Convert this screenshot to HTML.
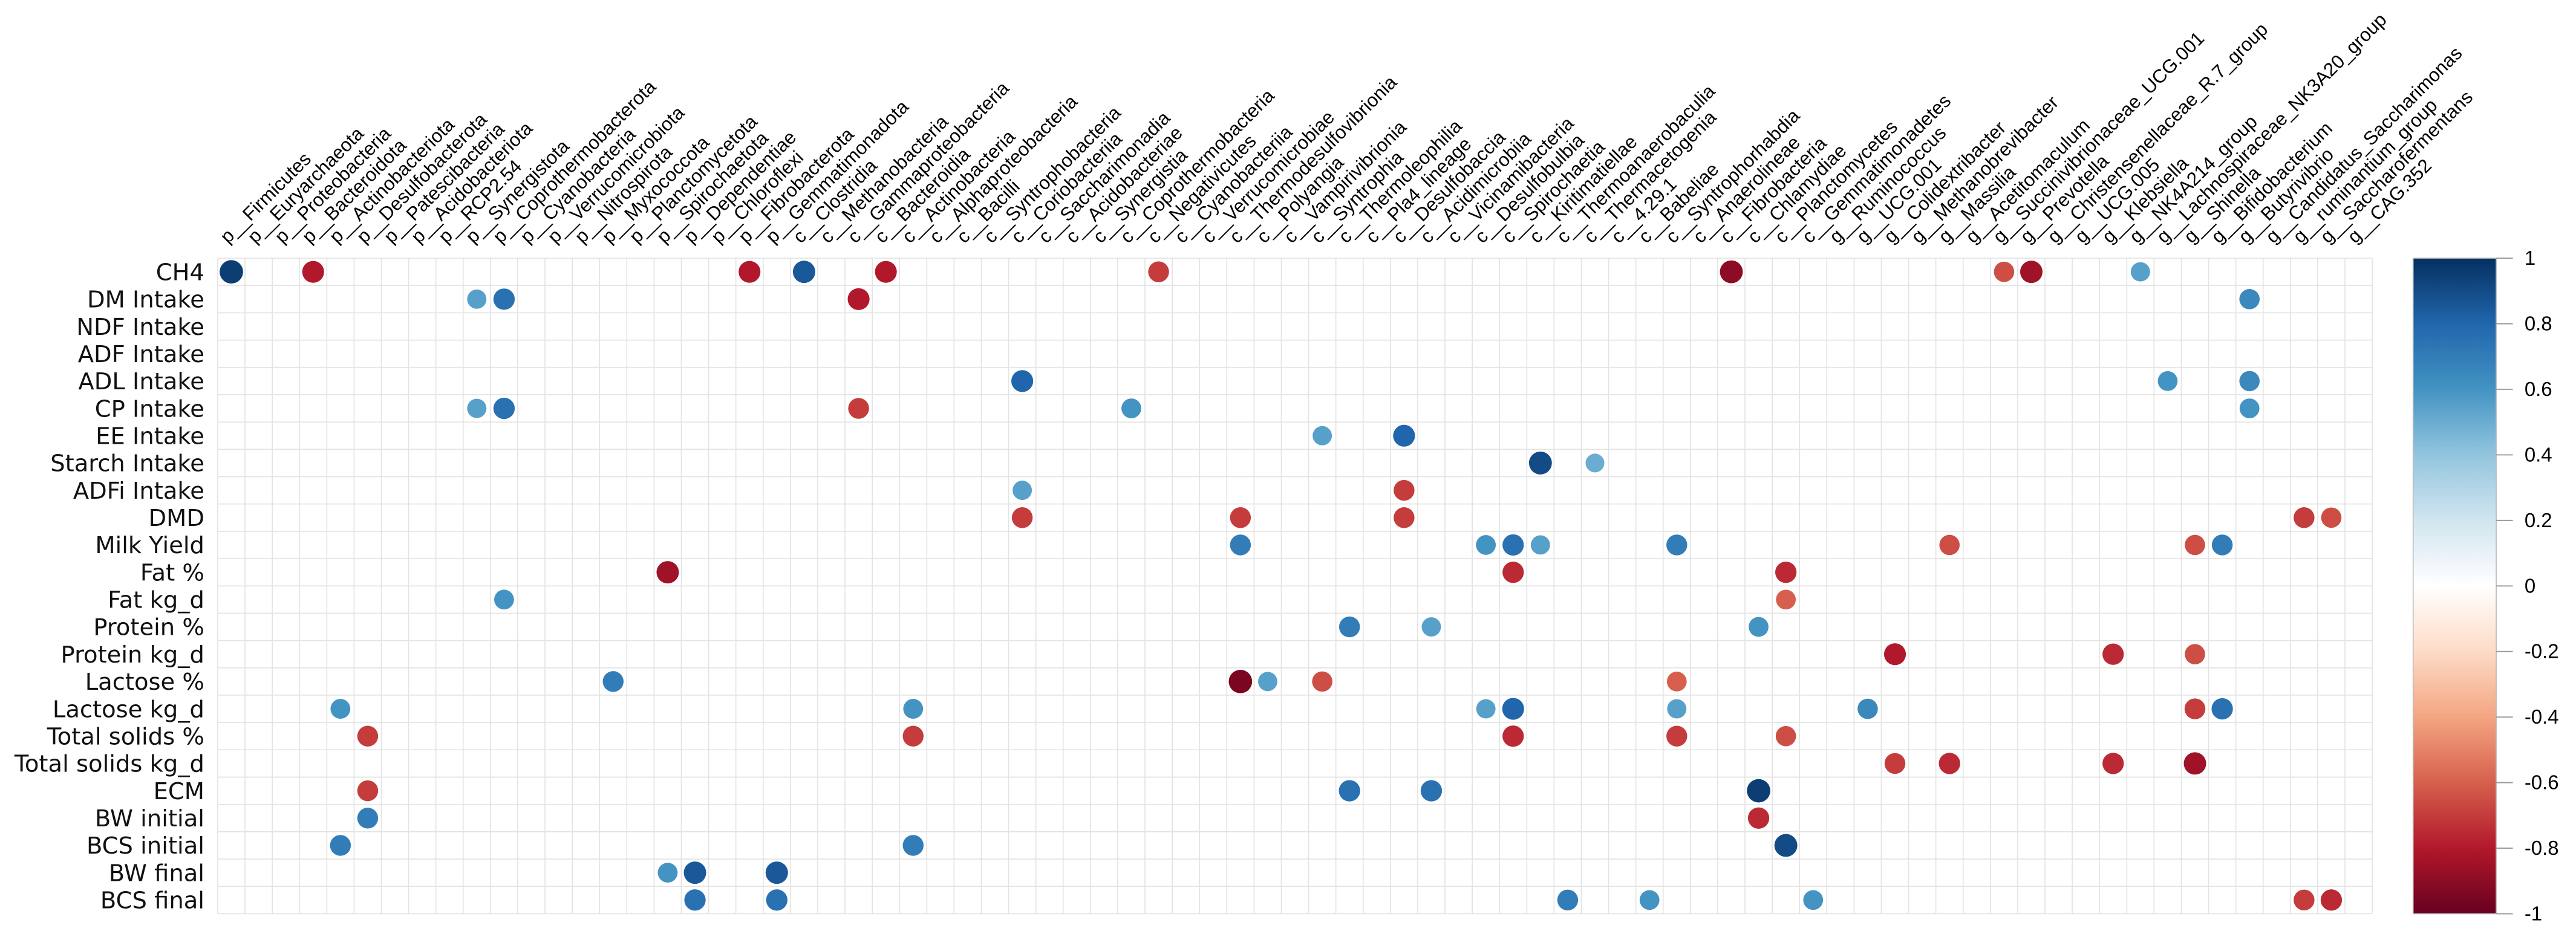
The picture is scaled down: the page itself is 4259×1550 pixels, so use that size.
<!DOCTYPE html>
<html><head><meta charset="utf-8"><style>
html,body{margin:0;padding:0;background:#fff;}
svg{display:block;}
text{font-family:"Liberation Sans",sans-serif;}
</style></head><body>
<svg id="chart" width="4259" height="1550" viewBox="0 0 1550 564" preserveAspectRatio="none" xmlns="http://www.w3.org/2000/svg">
<defs>
<linearGradient id="cbgrad" x1="0" y1="0" x2="0" y2="1">
<stop offset="0" stop-color="#053061"/><stop offset="0.1" stop-color="#2166AC"/><stop offset="0.2" stop-color="#4393C3"/><stop offset="0.3" stop-color="#92C5DE"/><stop offset="0.4" stop-color="#D1E5F0"/><stop offset="0.5" stop-color="#FFFFFF"/><stop offset="0.6" stop-color="#FDDBC7"/><stop offset="0.7" stop-color="#F4A582"/><stop offset="0.8" stop-color="#D6604D"/><stop offset="0.9" stop-color="#B2182B"/><stop offset="1" stop-color="#67001F"/>
</linearGradient>
</defs>
<g id="grid"></g>
<g id="rowlabels"></g>
<g id="collabels"></g>
<g id="dots"></g>
<g id="colorbar"></g>
</svg>
<script>
const rowNames = ["CH4","DM Intake","NDF Intake","ADF Intake","ADL Intake","CP Intake","EE Intake","Starch Intake","ADFi Intake","DMD","Milk Yield","Fat %","Fat kg_d","Protein %","Protein kg_d","Lactose %","Lactose kg_d","Total solids %","Total solids kg_d","ECM","BW initial","BCS initial","BW final","BCS final"];
const colNames = ["p__Firmicutes","p__Euryarchaeota","p__Proteobacteria","p__Bacteroidota","p__Actinobacteriota","p__Desulfobacterota","p__Patescibacteria","p__Acidobacteriota","p__RCP2.54","p__Synergistota","p__Coprothermobacterota","p__Cyanobacteria","p__Verrucomicrobiota","p__Nitrospirota","p__Myxococcota","p__Planctomycetota","p__Spirochaetota","p__Dependentiae","p__Chloroflexi","p__Fibrobacterota","p__Gemmatimonadota",
"c__Clostridia","c__Methanobacteria","c__Gammaproteobacteria","c__Bacteroidia","c__Actinobacteria","c__Alphaproteobacteria","c__Bacilli","c__Syntrophobacteria","c__Coriobacteriia","c__Saccharimonadia","c__Acidobacteriae","c__Synergistia","c__Coprothermobacteria","c__Negativicutes","c__Cyanobacteriia","c__Verrucomicrobiae","c__Thermodesulfovibrionia","c__Polyangia","c__Vampirivibrionia","c__Syntrophia","c__Thermoleophilia","c__Pla4_lineage","c__Desulfobaccia","c__Acidimicrobiia","c__Vicinamibacteria","c__Desulfobulbia","c__Spirochaetia","c__Kiritimatiellae","c__Thermoanaerobaculia","c__Thermacetogenia","c__4.29.1","c__Babeliae","c__Syntrophorhabdia","c__Anaerolineae","c__Fibrobacteria","c__Chlamydiae","c__Planctomycetes","c__Gemmatimonadetes",
"g__Ruminococcus","g__UCG.001","g__Colidextribacter","g__Methanobrevibacter","g__Massilia","g__Acetitomaculum","g__Succinivibrionaceae_UCG.001","g__Prevotella","g__Christensenellaceae_R.7_group","g__UCG.005","g__Klebsiella","g__NK4A214_group","g__Lachnospiraceae_NK3A20_group","g__Shinella","g__Bifidobacterium","g__Butyrivibrio","g__Candidatus_Saccharimonas","g__ruminantium_group","g__Saccharofermentans","g__CAG.352"];
// significant correlations: row index, column index, value
const corrRow = [0,0,0,0,0,0,0,0,0,0, 1,1,1,1, 4,4,4, 5,5,5,5,5, 6,6, 7,7, 8,8, 9,9,9,9,9, 10,10,10,10,10,10,10,10, 11,11,11, 12,12, 13,13,13, 14,14,14, 15,15,15,15,15, 16,16,16,16,16,16,16,16, 17,17,17,17,17, 18,18,18,18, 19,19,19,19, 20,20, 21,21,21, 22,22,22, 23,23,23,23,23,23,23];
const corrCol = [0,3,19,21,24,34,55,65,66,70, 9,10,23,74, 29,71,74, 9,10,23,33,74, 40,43, 48,50, 29,43, 29,37,43,76,77, 37,46,47,48,53,63,72,73, 16,47,57, 10,57, 41,44,56, 61,69,72, 37,38,40,53,14, 4,25,46,47,53,60,72,73, 5,25,47,53,57, 61,63,69,72, 5,41,44,56, 5,56, 4,25,57, 16,17,20, 17,20,49,52,58,76,77];
const corrVal = [0.95,-0.8,-0.8,0.85,-0.8,-0.7,-0.9,-0.65,-0.85,0.55, 0.55,0.75,-0.8,0.65, 0.8,0.6,0.65, 0.55,0.75,-0.7,0.6,0.6, 0.55,0.8, 0.9,0.5, 0.55,-0.7, -0.7,-0.7,-0.7,-0.7,-0.65, 0.7,0.6,0.75,0.55,0.7,-0.65,-0.65,0.7, -0.85,-0.75,-0.75, 0.6,-0.6, 0.7,0.55,0.6, -0.8,-0.75,-0.65, -0.95,0.55,-0.65,-0.6,0.7, 0.6,0.6,0.55,0.8,0.55,0.65,-0.7,0.75, -0.7,-0.7,-0.75,-0.7,-0.65, -0.7,-0.75,-0.75,-0.85, -0.7,0.75,0.75,0.95, 0.7,-0.75, 0.7,0.7,0.9, 0.6,0.85,0.85, 0.75,0.75,0.7,0.6,0.6,-0.7,-0.75];
const cbTicks = ["1","0.8","0.6","0.4","0.2","0","-0.2","-0.4","-0.6","-0.8","-1"];
const cbTickVals = [1,0.8,0.6,0.4,0.2,0,-0.2,-0.4,-0.6,-0.8,-1];

const NS="http://www.w3.org/2000/svg";
const gx0=131.0, cw=16.41, gy0=155.4, rh=16.44;
const nC=colNames.length, nR=rowNames.length;
const xPos=c=>gx0+(c+0.5)*cw;
const yPos=r=>gy0+(r+0.5)*rh;
const palette=["#67001F","#B2182B","#D6604D","#F4A582","#FDDBC7","#FFFFFF","#D1E5F0","#92C5DE","#4393C3","#2166AC","#053061"];
function colorFor(v){
  const t=(v+1)/2*10; const i=Math.min(9,Math.floor(t)); const f=t-i;
  const a=palette[i], b=palette[i+1];
  const p=(h,k)=>parseInt(h.substr(1+2*k,2),16);
  const m=k=>Math.round(p(a,k)+(p(b,k)-p(a,k))*f);
  return `rgb(${m(0)},${m(1)},${m(2)})`;
}
function mk(tag,attrs,parent){const e=document.createElementNS(NS,tag);for(const k in attrs)e.setAttribute(k,attrs[k]);parent.appendChild(e);return e;}

const grid=document.getElementById('grid');
for(let c=0;c<=nC;c++){
  const l=mk('line',{x1:gx0+c*cw,x2:gx0+c*cw,y1:gy0,y2:gy0+nR*rh,stroke:'#e3e3e3','stroke-width':0.6},grid);
  
  
}
for(let r=0;r<=nR;r++){
  const l=mk('line',{x1:gx0,x2:gx0+nC*cw,y1:gy0+r*rh,y2:gy0+r*rh,stroke:'#e3e3e3','stroke-width':0.6},grid);
  
  
}
const rl=document.getElementById('rowlabels');
rowNames.forEach((n,r)=>{
  const t=mk('text',{x:123,y:yPos(r)+5,'text-anchor':'end','font-size':14,fill:'#111',style:'font-family:"DejaVu Sans",sans-serif'},rl);
  t.textContent=n;
  
  
});
const cl=document.getElementById('collabels');
colNames.forEach((n,c)=>{
  const x=xPos(c)-2, y=147;
  const t=mk('text',{x:x,y:y,'font-size':11.4,fill:'#000',transform:`rotate(-45 ${x} ${y})`},cl);
  t.textContent=n;
  
  
});
const dots=document.getElementById('dots');
corrVal.forEach((v,i)=>{
  const c=mk('circle',{cx:xPos(corrCol[i]),cy:yPos(corrRow[i]),r:4.1+3.1*Math.abs(v),fill:colorFor(v)},dots);
  
  
});
const cb=document.getElementById('colorbar');
const cbx=1452, cbw=50, cby0=155.4, cby1=550;
const rect=mk('rect',{x:cbx,y:cby0,width:cbw,height:cby1-cby0,fill:'url(#cbgrad)',stroke:'#bbb','stroke-width':0.6},cb);


cbTickVals.forEach((v,i)=>{
  const y=cby0+(1-v)/2*(cby1-cby0);
  const tl=mk('line',{x1:cbx+cbw,x2:cbx+cbw+10,y1:y,y2:y,stroke:'#999','stroke-width':0.7},cb);
  
  
  const t=mk('text',{x:cbx+cbw+17,y:y+4,'font-size':12,fill:'#000'},cb);
  t.textContent=cbTicks[i];
  
  
});
</script>
</body></html>
